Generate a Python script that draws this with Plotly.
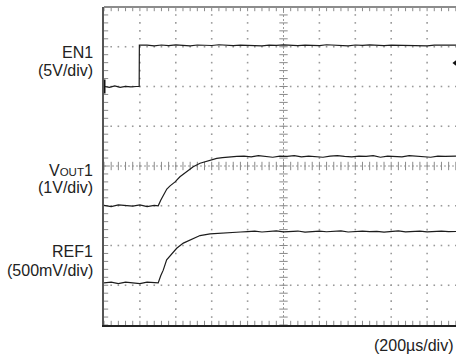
import numpy as np
import plotly.graph_objects as go

# ---- time base and channel setup ----------------------------------------
US_PER_DIV = 200          # horizontal scale, microseconds per division
N_XDIV, N_YDIV = 10, 8    # graticule size
X_VIEW_END = 1961         # the window cuts the last division slightly short

# volts per division and ground position (in divisions from the bottom)
EN1_SCALE, EN1_OFFSET = 5.0, 6.0
VOUT1_SCALE, VOUT1_OFFSET = 1.0, 3.0
REF1_SCALE, REF1_OFFSET = 0.5, 1.06

# ---- captured waveforms (time in us, level in V) --------------------------
en1_t = [0, 30, 60, 90, 120, 150, 180, 196, 197,
         240, 280, 320, 360, 400, 440, 480, 520, 560, 600,
         640, 680, 720, 760, 800, 840, 880, 920, 960, 1000,
         1040, 1080, 1120, 1160, 1200, 1240, 1280, 1320, 1360, 1400,
         1440, 1480, 1520, 1560, 1600, 1640, 1680, 1720, 1760, 1800,
         1840, 1880, 1920, 1961]
en1_v = [0.00, -0.12, 0.08, -0.10, 0.02, -0.04, 0.00, 0.00, 5.20,
         5.20, 5.10, 5.22, 5.15, 5.24, 5.18, 5.12, 5.22, 5.20, 5.16,
         5.25, 5.20, 5.14, 5.21, 5.18, 5.23, 5.12, 5.20, 5.17, 5.24,
         5.19, 5.13, 5.21, 5.20, 5.15, 5.25, 5.18, 5.20, 5.12, 5.22,
         5.17, 5.24, 5.19, 5.14, 5.21, 5.20, 5.16, 5.23, 5.18, 5.12,
         5.21, 5.20, 5.17, 5.20]

vout1_t = [0, 40, 80, 120, 160, 200, 240, 280,
           302, 316, 330, 350, 368, 396, 423, 461, 497, 535, 563, 600,
           628, 660, 700, 740,
           780, 820, 860, 900, 940, 980, 1020, 1060, 1100, 1140,
           1180, 1220, 1260, 1300, 1340, 1380, 1420, 1460, 1500, 1540,
           1580, 1620, 1660, 1700, 1740, 1780, 1820, 1860, 1900, 1961]
vout1_v = [0.01, -0.02, 0.02, 0.00, -0.01, 0.02, -0.02, 0.01,
           0.00, 0.14, 0.27, 0.42, 0.50, 0.60, 0.73, 0.86, 0.98, 1.07, 1.11, 1.15,
           1.19, 1.21, 1.23, 1.24,
           1.25, 1.23, 1.26, 1.24, 1.22, 1.25, 1.24, 1.26, 1.23, 1.25,
           1.24, 1.22, 1.25, 1.26, 1.24, 1.23, 1.25, 1.24, 1.26, 1.22,
           1.25, 1.24, 1.23, 1.26, 1.25, 1.24, 1.22, 1.25, 1.24, 1.25]

ref1_t = [0, 40, 80, 120, 160, 200, 240, 280,
          302, 316, 330, 349, 377, 405, 442, 479, 535, 591, 640, 684,
          720, 760,
          800, 840, 880, 920, 960, 1000, 1040, 1080, 1120, 1160,
          1200, 1240, 1280, 1320, 1360, 1400, 1440, 1480, 1520, 1560,
          1600, 1640, 1680, 1720, 1760, 1800, 1840, 1880, 1920, 1961]
ref1_v = [0.000, 0.010, -0.010, 0.010, 0.000, -0.010, 0.010, 0.000,
          0.000, 0.090, 0.160, 0.290, 0.370, 0.435, 0.500, 0.540, 0.595, 0.615, 0.625, 0.630,
          0.636, 0.640,
          0.645, 0.650, 0.640, 0.648, 0.655, 0.642, 0.646, 0.652, 0.638, 0.645,
          0.650, 0.643, 0.648, 0.655, 0.640, 0.646, 0.651, 0.644, 0.648, 0.639,
          0.646, 0.653, 0.642, 0.647, 0.650, 0.641, 0.648, 0.652, 0.645, 0.646]

# EN1 trigger level (V) shown at the right edge
TRIG_LEVEL = 2.95

assert len(en1_t) == len(en1_v)
assert len(vout1_t) == len(vout1_v)
assert len(ref1_t) == len(ref1_v)


def to_div(values, scale, offset):
    return [offset + v / scale for v in values]


fig = go.Figure()

# ---- graticule -------------------------------------------------------------
GRID = "#9a9a9a"
minor_x = np.arange(0, N_XDIV * US_PER_DIV + 1, US_PER_DIV / 5)
minor_y = np.arange(0, N_YDIV + 0.001, 0.2)
major_x = [k * US_PER_DIV for k in range(1, N_XDIV) if k != N_XDIV // 2]
major_y = [k for k in range(1, N_YDIV) if k != N_YDIV // 2]

dot_x, dot_y = [], []
for mx in major_x:
    for my in minor_y[1:-1]:
        dot_x.append(mx); dot_y.append(my)
for my in major_y:
    for mx in minor_x[1:-1]:
        dot_x.append(mx); dot_y.append(my)
fig.add_trace(go.Scatter(x=dot_x, y=dot_y, mode="markers", hoverinfo="skip",
                         marker=dict(symbol="square", size=1.6, color=GRID,
                                     line=dict(width=0))))

# centre cross lines
cx = N_XDIV // 2 * US_PER_DIV
cy = N_YDIV / 2
fig.add_shape(type="line", x0=0, x1=N_XDIV * US_PER_DIV, y0=cy, y1=cy,
              line=dict(color=GRID, width=1, dash="2px,2px"), layer="below")
fig.add_shape(type="line", x0=cx, x1=cx, y0=0, y1=N_YDIV,
              line=dict(color=GRID, width=1, dash="2px,2px"), layer="below")

tick_marker_ns = dict(symbol="line-ns", size=6, line=dict(color="#8a8a8a", width=1))
tick_marker_ew = dict(symbol="line-ew", size=6, line=dict(color="#8a8a8a", width=1))
# ticks along the centre lines and inside the borders
fig.add_trace(go.Scatter(x=list(minor_x) * 3,
                         y=[cy] * len(minor_x) + [0] * len(minor_x) + [N_YDIV] * len(minor_x),
                         mode="markers", hoverinfo="skip", marker=tick_marker_ns))
fig.add_trace(go.Scatter(x=[cx] * len(minor_y) + [0] * len(minor_y),
                         y=list(minor_y) * 2,
                         mode="markers", hoverinfo="skip", marker=tick_marker_ew))

# ---- waveforms -------------------------------------------------------------
TRACE = dict(color="#1c1c1c", width=1.2)
fig.add_trace(go.Scatter(x=en1_t, y=to_div(en1_v, EN1_SCALE, EN1_OFFSET),
                         mode="lines", line=TRACE, name="EN1"))
fig.add_trace(go.Scatter(x=vout1_t, y=to_div(vout1_v, VOUT1_SCALE, VOUT1_OFFSET),
                         mode="lines", line=TRACE, name="VOUT1"))
fig.add_trace(go.Scatter(x=ref1_t, y=to_div(ref1_v, REF1_SCALE, REF1_OFFSET),
                         mode="lines", line=TRACE, name="REF1"))

# EN1 ground marker and trigger-level marker
fig.add_trace(go.Scatter(x=[0], y=[EN1_OFFSET], mode="markers", cliponaxis=False,
                         marker=dict(symbol="line-ns", size=10,
                                     line=dict(color="#111", width=3))))
fig.add_trace(go.Scatter(x=[X_VIEW_END - 6], y=[EN1_OFFSET + TRIG_LEVEL / EN1_SCALE],
                         mode="markers", cliponaxis=False,
                         marker=dict(symbol="triangle-left", size=5, color="#111")))

# top border
fig.add_shape(type="line", xref="paper", yref="paper", x0=0, x1=1, y0=1, y1=1,
              line=dict(color="#8c8c8c", width=2))

# ---- labels ----------------------------------------------------------------
FONT = dict(family="Liberation Sans, Arial, sans-serif", size=16, color="#222")
LBL_X = -11 / 352
labels = [
    ("EN1", 0.856),
    ("(5V/div)", 0.799),
    ("V<span style='font-size:11.5px'>OUT</span>1", 0.486),
    ("(1V/div)", 0.432),
    ("REF1", 0.232),
    ("(500mV/div)", 0.172),
]
for text, yp in labels:
    fig.add_annotation(x=LBL_X, y=yp, xref="paper", yref="paper", text=text,
                       showarrow=False, xanchor="right", yanchor="middle",
                       font=FONT, borderpad=0, borderwidth=0)
fig.add_annotation(x=(453 - 104) / 352, y=-0.063, xref="paper", yref="paper",
                   text="(200µs/div)", showarrow=False, xanchor="right",
                   yanchor="middle", font=FONT, borderpad=0, borderwidth=0)

fig.update_layout(
    width=456, height=358,
    margin=dict(l=104, r=0, t=7, b=33),
    paper_bgcolor="white", plot_bgcolor="white",
    showlegend=False,
    xaxis=dict(range=[0, X_VIEW_END], showgrid=False, zeroline=False,
               showticklabels=False, ticks="", showline=True,
               linecolor="#222", linewidth=1.5),
    yaxis=dict(range=[0, N_YDIV], showgrid=False, zeroline=False,
               showticklabels=False, ticks="", showline=True,
               linecolor="#555", linewidth=1.5),
)

fig.write_html("out.html")
